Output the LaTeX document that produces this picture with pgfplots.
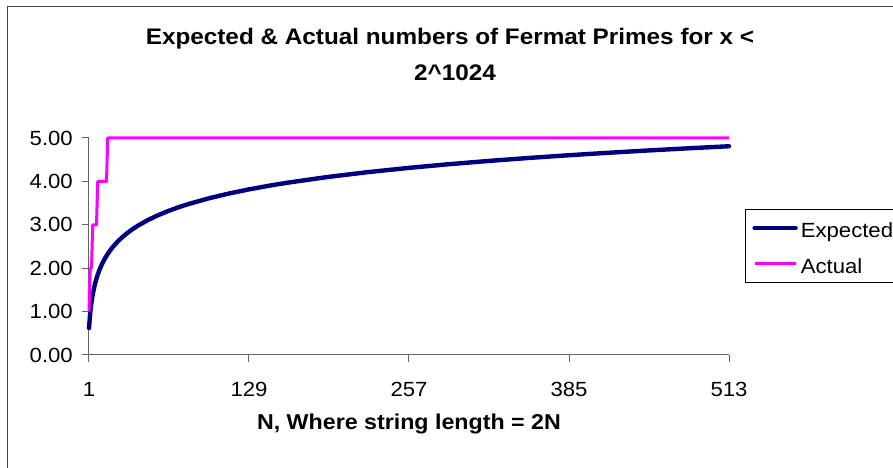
\documentclass[border=0pt]{standalone}
\usepackage{fontspec}
\setmainfont{Liberation Sans}[FakeStretch=1.08]
\usepackage{pgfplots}
\pgfplotsset{compat=1.18}

\definecolor{navyline}{RGB}{0,0,128}
\definecolor{magline}{RGB}{255,0,255}
\definecolor{framegray}{RGB}{64,64,64}
\definecolor{axisgray}{RGB}{100,100,100}

\newcommand{\lblfont}{\fontsize{20.5}{24}\selectfont}
\newcommand{\ttlfont}{\fontsize{22.5}{26}\selectfont\bfseries}
\newcommand{\xlfont}{\fontsize{21.5}{25}\selectfont\bfseries}

\begin{document}
\begin{tikzpicture}
    \begin{axis}[
            scale only axis,
            width=640pt, height=217pt,
            xmin=1, xmax=513,
            ymin=0, ymax=5,
            axis lines=left,
            axis line style={-, axisgray, line width=1pt},
            tick align=outside,
            major tick length=7pt,
            tick style={axisgray, line width=1pt},
            xtick={1,129,257,385,513},
            ytick={0,1,2,3,4,5},
            tick label style={font=\lblfont},
            /pgf/number format/assume math mode=true,
            yticklabel style={/pgf/number format/fixed, /pgf/number format/fixed zerofill, /pgf/number format/precision=2},
            yticklabel style={anchor=east, inner xsep=0pt, xshift=-9pt},
            xticklabel style={anchor=base, yshift=-35pt},
            xlabel={N, Where string length = 2N},
            xlabel style={font=\xlfont, at={(axis description cs:0.5,0)}, anchor=base, yshift=-75pt},
            clip=false,
            legend style={
                    at={(1.025,0.6728)}, anchor=north west,
                    draw=black, line width=0.8pt,
                    font=\lblfont,
                    inner xsep=7pt, inner ysep=8pt,
                    nodes={inner sep=0pt, text height=20pt, text depth=1pt},
                    row sep=15pt, column sep=3pt,
                },
            legend cell align={left},
            legend image code/.code={\draw[#1] (0pt,0pt) -- (41pt,0pt);},
        ]
        \addplot [navyline, line width=4.4pt, line cap=round, line join=round]
        table {%
                1 0.6213
                2 0.9743
                3 1.2138
                4 1.3940
                5 1.5383
                6 1.6585
                7 1.7616
                8 1.8517
                9 1.9319
                10 2.0040
                11 2.0696
                12 2.1297
                14 2.2367
                16 2.3299
                18 2.4124
                20 2.4864
                24 2.6150
                28 2.7241
                32 2.8188
                36 2.9025
                40 2.9775
                48 3.1076
                56 3.2177
                64 3.3132
                72 3.3976
                80 3.4731
                96 3.6038
                112 3.7145
                128 3.8104
                144 3.8951
                160 3.9708
                192 4.1020
                224 4.2129
                256 4.3090
                288 4.3938
                320 4.4697
                352 4.5383
                384 4.6010
                416 4.6587
                448 4.7121
                480 4.7618
                513 4.8097
            };
        \addlegendentry{Expected}
        \addplot [magline, line width=3pt, line join=round]
        table {%
                1 1
                2 2
                3 2
                4 3
                7 3
                8 4
                15 4
                16 5
                513 5
            };
        \addlegendentry{Actual}

        % title, two lines as in the reference
        \node[font=\ttlfont, anchor=base] at (rel axis cs:0.56406,1.42857)
            {Expected \& Actual numbers of Fermat Primes for x <};
        \node[font=\ttlfont, anchor=base] at (rel axis cs:0.57188,1.26267)
            {2\textasciicircum{}1024};

        % chart frame: only its left and top edges lie inside the picture
        \draw[framegray, line width=1.4pt]
            (rel axis cs:-0.12766,-0.6) -- (rel axis cs:-0.12766,1.60507)
            -- (rel axis cs:1.3,1.60507);

        % picture corners
        \coordinate (bbsw) at (rel axis cs:-0.13906,-0.52074);
        \coordinate (bbne) at (rel axis cs:1.25625,1.63594);
    \end{axis}
    \pgfresetboundingbox
    \useasboundingbox (bbsw) rectangle (bbne);
\end{tikzpicture}
\end{document}
